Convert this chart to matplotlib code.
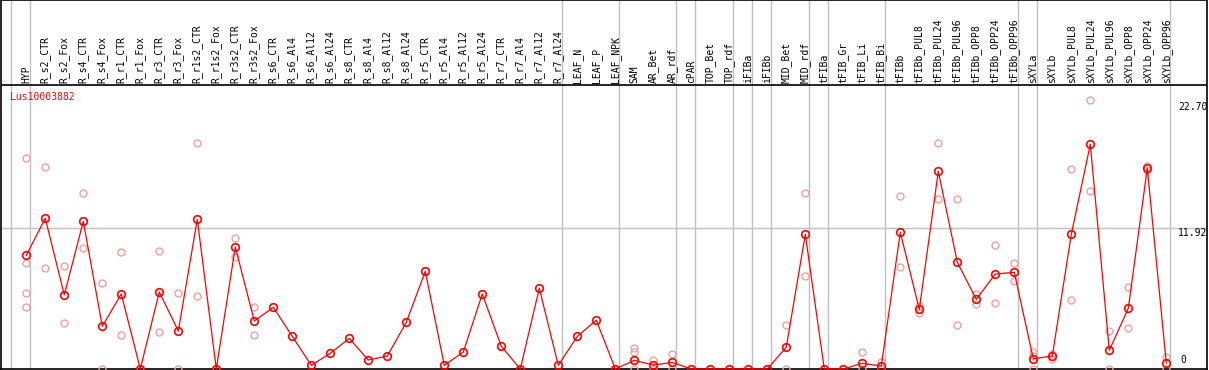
import numpy as np
from matplotlib import pyplot as plt

gene = 'Lus10003882'

samples = ['HYP',
	'R_s2_CTR', 'R_s2_Fox', 'R_s4_CTR', 'R_s4_Fox', 'R_r1_CTR', 'R_r1_Fox', 'R_r3_CTR', 'R_r3_Fox',
	'R_r1s2_CTR', 'R_r1s2_Fox', 'R_r3s2_CTR', 'R_r3s2_Fox',
	'R_s6_CTR', 'R_s6_Al4', 'R_s6_Al12', 'R_s6_Al24', 'R_s8_CTR', 'R_s8_Al4', 'R_s8_Al12', 'R_s8_Al24',
	'R_r5_CTR', 'R_r5_Al4', 'R_r5_Al12', 'R_r5_Al24', 'R_r7_CTR', 'R_r7_Al4', 'R_r7_Al12', 'R_r7_Al24',
	'LEAF_N', 'LEAF_P', 'LEAF_NPK', 'SAM', 'AR_Bet', 'AR_rdf', 'cPAR', 'TOP_Bet', 'TOP_rdf',
	'iFIBa', 'iFIBb', 'MID_Bet', 'MID_rdf', 'tFIBa', 'tFIB_Gr', 'tFIB_Li', 'tFIB_Bi',
	'tFIBb', 'tFIBb_PUL8', 'tFIBb_PUL24', 'tFIBb_PUL96', 'tFIBb_OPP8', 'tFIBb_OPP24', 'tFIBb_OPP96',
	'sXYLa', 'sXYLb', 'sXYLb_PUL8', 'sXYLb_PUL24', 'sXYLb_PUL96', 'sXYLb_OPP8', 'sXYLb_OPP24', 'sXYLb_OPP96']

# sizes of the sample groups (separated by grey lines)
group_sizes = [1, 28, 3, 3, 1, 2, 1, 1, 2, 1, 3, 7, 1, 7]

means = [9.61, 12.74, 6.26, 12.48, 3.61, 6.34, 0, 6.51, 3.21, 12.65, 0, 10.31, 4.06,
	5.21, 2.76, 0.31, 1.33, 2.59, 0.76, 1.10, 3.95, 8.26, 0.31, 1.44, 6.34, 1.92, 0, 6.82, 0.31,
	2.76, 4.12, 0, 0.73, 0.34, 0.55, 0, 0, 0, 0, 0, 1.85, 11.38, 0, 0, 0.48, 0.25,
	11.55, 5.04, 16.71, 9.02, 5.89, 8.03, 8.17,
	0.86, 1.10, 11.38, 18.99, 1.58, 5.13, 16.97, 0.50]

replicates = [[17.8, 9.0, 6.4, 5.2],
	[17.05, 8.5], [8.7, 3.85], [14.85, 10.2], [7.3, 0], [9.85, 2.85], [0, 0], [9.95, 3.1], [6.4, 0],
	[19.1, 6.15], [0, 0], [11.05, 9.5], [5.2, 2.85],
	[], [], [], [], [], [], [], [], [], [], [], [], [], [], [], [],
	[], [], [], [1.75, 1.4, 0], [0.8, 0], [1.27, 0], [], [], [], [], [], [3.7, 0], [14.85, 7.86],
	[], [], [1.46, 0], [0.62, 0],
	[14.6, 8.6], [5.35, 4.76], [19.08, 14.34], [14.34, 3.69], [6.31, 5.47], [10.48, 5.58], [8.96, 7.41],
	[1.41, 1.12, 0], [1.29, 0.85], [16.88, 5.83], [22.7, 15.05], [3.21, 0], [6.93, 3.44], [17.19, 16.8], [1.04, 0]]

ymax = 22.70
ymid = 11.92

FONT = 'DejaVu Sans Mono'
W, H = 1209, 370
fig = plt.figure(figsize=(W/100, H/100), dpi=100)
ax = fig.add_axes([1/W, 1/H, 1206/W, 369/H])

x = np.arange(len(samples))
step = 19.0
ax.set_xlim((1 - 26.3)/step, (1207 - 26.3)/step)
ax.set_ylim(0, 369/11.83)
ax.set_xticks([])
ax.set_yticks([])
for s in ax.spines.values():
	s.set_color('black')
	s.set_linewidth(1.2)

# grey separators
bounds = np.concatenate([[0], np.cumsum(group_sizes)]) - 1 + 0.21
for b in bounds:
	ax.axvline(b, color='#c0c0c0', lw=1, zorder=1)
ax.axhline(ymid, color='#c0c0c0', lw=1, zorder=1)

# header line
ax.axhline(369/11.83*0.769, color='black', lw=1.2, zorder=2)

# replicates
for i, reps in enumerate(replicates):
	if len(reps):
		ax.plot([i]*len(reps), reps, 'o', ms=5, mfc='none', mec='#f0a0a0', mew=1, clip_on=False, zorder=3)

ax.plot(x, means, '-', color='red', lw=0.9, zorder=4, clip_on=False)
ax.plot(x, means, 'o', ms=5.5, mfc='none', mec='red', mew=1.2, zorder=5, clip_on=False)

# sample labels
tr = ax.get_xaxis_transform()
for i, name in enumerate(samples):
	ax.text(i, 0.775, name, rotation=90, ha='center', va='bottom', transform=tr,
		fontsize=7, family=FONT, color='black')

ax.text(0.0075, 1 - 96.5/369, gene, transform=ax.transAxes, ha='left', va='center',
	fontsize=7, family=FONT, color='red')

lx = (1178 - 26.3)/step
ax.text(lx, ymax - 0.15, '%.2f' % ymax, ha='left', va='top', fontsize=7, family=FONT)
ax.text(lx, ymid, '%.2f' % ymid, ha='left', va='top', fontsize=7, family=FONT)
ax.text(lx + 0.1, 0.3, '0', ha='left', va='bottom', fontsize=7, family=FONT)

fig.savefig('out.png', dpi=100)
